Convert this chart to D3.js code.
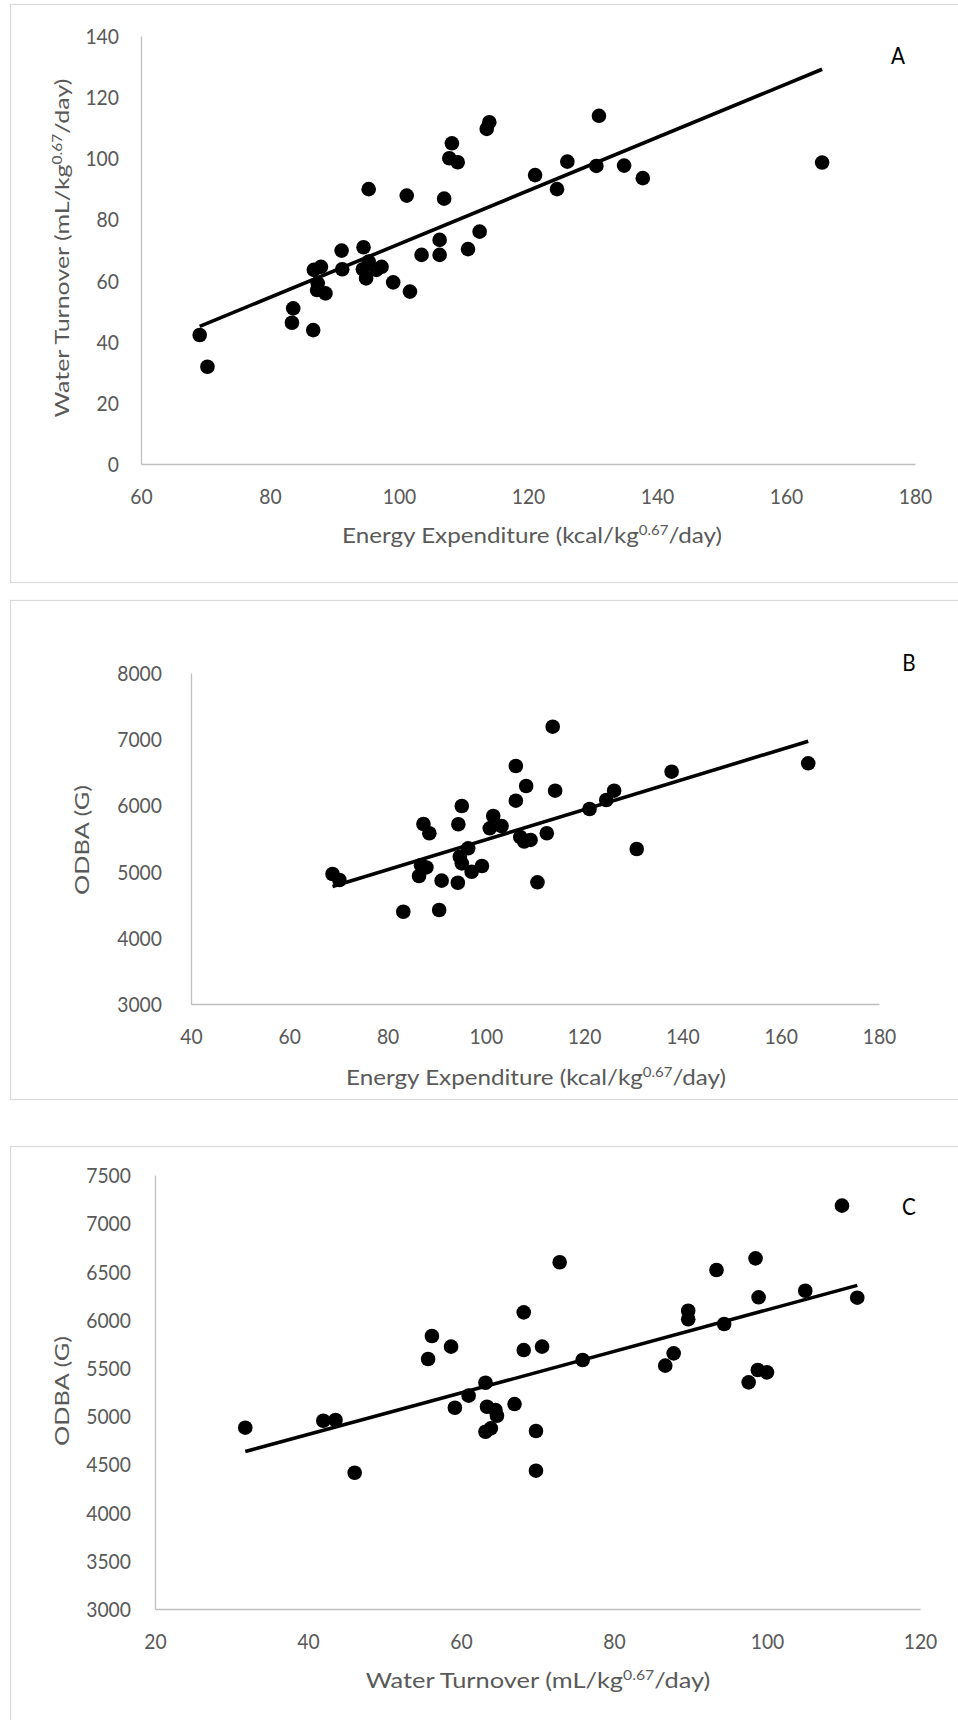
<!DOCTYPE html>
<html>
<head>
<meta charset="utf-8">
<script src="https://cdn.jsdelivr.net/npm/d3@7"></script>
<style>
  html, body { margin: 0; padding: 0; background: #ffffff; }
  svg { display: block; }
</style>
</head>
<body>
<svg id="fig" width="958" height="1720"></svg>
<script>
// ---- Panel A: energy expenditure vs water turnover ----
const aEnergy = [69.1, 70.3, 83.6, 83.4, 86.7, 86.8, 87.9, 87.4, 87.3, 88.6,
  91.1, 91.2, 94.5, 94.4, 94.9, 95.3, 96.5, 97.3, 95.3, 99.1,
  101.2, 101.7, 103.5, 106.3, 106.3, 107.0, 107.8, 108.2, 109.1, 110.7,
  112.5, 113.6, 114.0, 121.1, 124.5, 126.1, 130.6, 131.0, 134.9, 137.8, 165.6];
const aWater = [42.2, 31.8, 50.9, 46.2, 43.8, 63.5, 64.5, 59.1, 56.9, 55.8,
  69.8, 63.7, 70.9, 63.7, 60.7, 66.2, 63.5, 64.5, 89.9, 59.4,
  87.8, 56.4, 68.4, 73.3, 68.4, 86.8, 100.0, 104.9, 98.7, 70.3,
  76.0, 109.6, 111.8, 94.5, 89.9, 98.9, 97.5, 113.9, 97.6, 93.5, 98.6];

// ---- Panel B: energy expenditure vs ODBA ----
const bEnergy = [68.8, 70.2, 83.2, 86.4, 86.8, 87.9, 87.3, 88.5, 90.5, 91.0,
  94.3, 94.4, 94.7, 95.1, 95.1, 96.4, 97.1, 99.2, 100.8, 101.5,
  103.2, 106.1, 106.1, 107.0, 107.8, 108.2, 109.1, 110.5, 112.4, 113.6,
  114.1, 121.1, 124.5, 126.1, 130.7, 137.8, 165.6];
const bOdba = [4964, 4873, 4394, 4934, 5097, 5063, 5719, 5579, 4420, 4863,
  4832, 5715, 5225, 5125, 5991, 5352, 4998, 5085, 5654, 5840,
  5689, 6595, 6071, 5523, 5454, 6293, 5478, 4838, 5579, 7189,
  6222, 5946, 6082, 6222, 5341, 6509, 6636];

// ---- Panel C: water turnover vs ODBA ----
const cWater = [31.8, 42.0, 43.6, 46.1, 55.7, 56.2, 58.7, 59.2, 61.0, 63.2,
  63.4, 64.5, 64.7, 63.2, 63.9, 67.0, 68.2, 68.2, 69.8, 69.8,
  70.6, 72.9, 75.9, 86.7, 87.8, 89.7, 89.7, 93.4, 94.4, 97.6,
  98.5, 98.8, 98.9, 100.0, 105.0, 109.8, 111.8];
const cOdba = [4880, 4952, 4960, 4413, 5592, 5831, 5720, 5087, 5212, 5346,
  5097, 5063, 5004, 4838, 4873, 5125, 6076, 5685, 4846, 4434,
  5720, 6595, 5582, 5523, 5651, 6093, 6004, 6515, 5955, 5350,
  6636, 5478, 6232, 5454, 6300, 7182, 6228];

// ---- Tick values ----
const aXTicks = [60, 80, 100, 120, 140, 160, 180];
const aYTicks = [0, 20, 40, 60, 80, 100, 120, 140];
const bXTicks = [40, 60, 80, 100, 120, 140, 160, 180];
const bYTicks = [3000, 4000, 5000, 6000, 7000, 8000];
const cXTicks = [20, 40, 60, 80, 100, 120];
const cYTicks = [3000, 3500, 4000, 4500, 5000, 5500, 6000, 6500, 7000, 7500];

// ---- Axis titles (text segments, superscript flagged) ----
const energyTitle = [{ t: "Energy Expenditure (kcal/kg" }, { t: "0.67", sup: true }, { t: "/day)" }];
const waterTitle = [{ t: "Water Turnover (mL/kg" }, { t: "0.67", sup: true }, { t: "/day)" }];
const odbaTitle = [{ t: "ODBA (G)" }];

const svg = d3.select("#fig");
const FONT = "Lato, 'Open Sans', 'DejaVu Sans', sans-serif";
const TEXT_GREY = "#595959";
const AXIS_GREY = "#bfbfbf";
const FRAME_GREY = "#d9d9d9";
const plain = d3.format("d");

function writeSegments(textSel, segs, size) {
  const shift = size * 0.38;
  segs.forEach((s, i) => {
    const ts = textSel.append("tspan").text(s.t);
    if (s.sup) {
      ts.attr("font-size", size * 0.62).attr("dy", -shift);
    } else if (i > 0 && segs[i - 1].sup) {
      ts.attr("dy", shift);
    }
  });
}

// Place a title centred on (cx, cy), squeezed/stretched along its
// baseline so that its drawn length equals `len`.
function title(g, segs, cx, cy, len, size, rotate) {
  const t = g.append("text")
    .attr("font-family", FONT)
    .attr("font-size", size)
    .attr("fill", TEXT_GREY)
    .attr("text-anchor", "middle")
    .attr("y", size * 0.36);
  writeSegments(t, segs, size);
  const w = t.node().getComputedTextLength();
  const s = len / w;
  t.attr("transform", `translate(${cx},${cy})` + (rotate ? " rotate(-90)" : "") + ` scale(${s},1)`);
  return t;
}

function panel(p) {
  const g = svg.append("g");

  g.append("rect")
    .attr("x", p.frame[0] + 0.5).attr("y", p.frame[1] + 0.5)
    .attr("width", p.frame[2]).attr("height", p.frame[3])
    .attr("fill", "none").attr("stroke", FRAME_GREY).attr("stroke-width", 1.2);

  const x = d3.scaleLinear().domain(p.xDomain).range(p.xRange);
  const y = d3.scaleLinear().domain(p.yDomain).range(p.yRange);
  const tickScale = 0.92;

  const gx = g.append("g")
    .attr("transform", `translate(0,${p.yRange[0]})`)
    .call(d3.axisBottom(x).tickValues(p.xTicks).tickFormat(plain).tickSize(0).tickSizeOuter(0));
  gx.selectAll(".tick text")
    .attr("y", p.xTickOffset).attr("dy", "0.36em")
    .attr("transform", `scale(${tickScale},1)`);

  const gy = g.append("g")
    .attr("transform", `translate(${p.xRange[0]},0)`)
    .call(d3.axisLeft(y).tickValues(p.yTicks).tickFormat(plain).tickSize(0).tickSizeOuter(0));
  gy.selectAll(".tick text")
    .attr("x", -p.yTickGap / tickScale).attr("dy", "0.36em")
    .attr("transform", `scale(${tickScale},1)`);

  [gx, gy].forEach(a => {
    a.attr("font-family", FONT).attr("font-size", 21);
    a.select(".domain").attr("stroke", AXIS_GREY).attr("stroke-width", 1.3);
    a.selectAll(".tick text").attr("fill", TEXT_GREY);
  });

  // least-squares trend line over the observed x range
  const xs = p.xs, ys = p.ys;
  const mx = d3.mean(xs), my = d3.mean(ys);
  const sxy = d3.sum(xs, (v, i) => (v - mx) * (ys[i] - my));
  const sxx = d3.sum(xs, v => (v - mx) * (v - mx));
  const slope = sxy / sxx, icpt = my - slope * mx;
  const ext = d3.extent(xs);
  const fitPts = ext.map(v => [v, icpt + slope * v]);

  g.append("path")
    .datum(fitPts)
    .attr("d", d3.line().x(d => x(d[0])).y(d => y(d[1])))
    .attr("fill", "none").attr("stroke", "#000").attr("stroke-width", 3.6);

  g.append("g").selectAll("circle")
    .data(xs.map((v, i) => [v, ys[i]]))
    .join("circle")
    .attr("cx", d => x(d[0])).attr("cy", d => y(d[1]))
    .attr("r", 7.3).attr("fill", "#000");

  title(g, p.xTitle, p.xTitlePos[0], p.xTitlePos[1], p.xTitleLen, 21, false);
  title(g, p.yTitle, p.yTitlePos[0], p.yTitlePos[1], p.yTitleLen, 20, true);

  g.append("text")
    .attr("transform", `translate(${p.letterPos[0]},${p.letterPos[1]}) scale(0.9,1)`)
    .attr("font-family", FONT).attr("font-size", 23).attr("fill", "#000")
    .attr("text-anchor", "middle").attr("dy", "0.36em")
    .text(p.letter);
}

panel({
  frame: [10, 4, 960, 578],
  xs: aEnergy, ys: aWater,
  xDomain: [60, 180], xRange: [141, 915],
  yDomain: [0, 140], yRange: [464, 36],
  xTicks: aXTicks, yTicks: aYTicks,
  xTickOffset: 32, yTickGap: 22,
  xTitle: energyTitle, xTitlePos: [532, 535], xTitleLen: 380,
  yTitle: waterTitle, yTitlePos: [62, 248], yTitleLen: 339,
  letter: "A", letterPos: [898, 56]
});

panel({
  frame: [10, 600, 960, 499],
  xs: bEnergy, ys: bOdba,
  xDomain: [40, 180], xRange: [191, 879],
  yDomain: [3000, 8000], yRange: [1004, 673],
  xTicks: bXTicks, yTicks: bYTicks,
  xTickOffset: 32, yTickGap: 29,
  xTitle: energyTitle, xTitlePos: [536, 1077], xTitleLen: 380,
  yTitle: odbaTitle, yTitlePos: [82, 840], yTitleLen: 110,
  letter: "B", letterPos: [909, 663]
});

panel({
  frame: [10, 1146, 960, 600],
  xs: cWater, ys: cOdba,
  xDomain: [20, 120], xRange: [155, 920],
  yDomain: [3000, 7500], yRange: [1609, 1175],
  xTicks: cXTicks, yTicks: cYTicks,
  xTickOffset: 32, yTickGap: 24,
  xTitle: waterTitle, xTitlePos: [538, 1680], xTitleLen: 345,
  yTitle: odbaTitle, yTitlePos: [62, 1391], yTitleLen: 110,
  letter: "C", letterPos: [909, 1207]
});
</script>
</body>
</html>
